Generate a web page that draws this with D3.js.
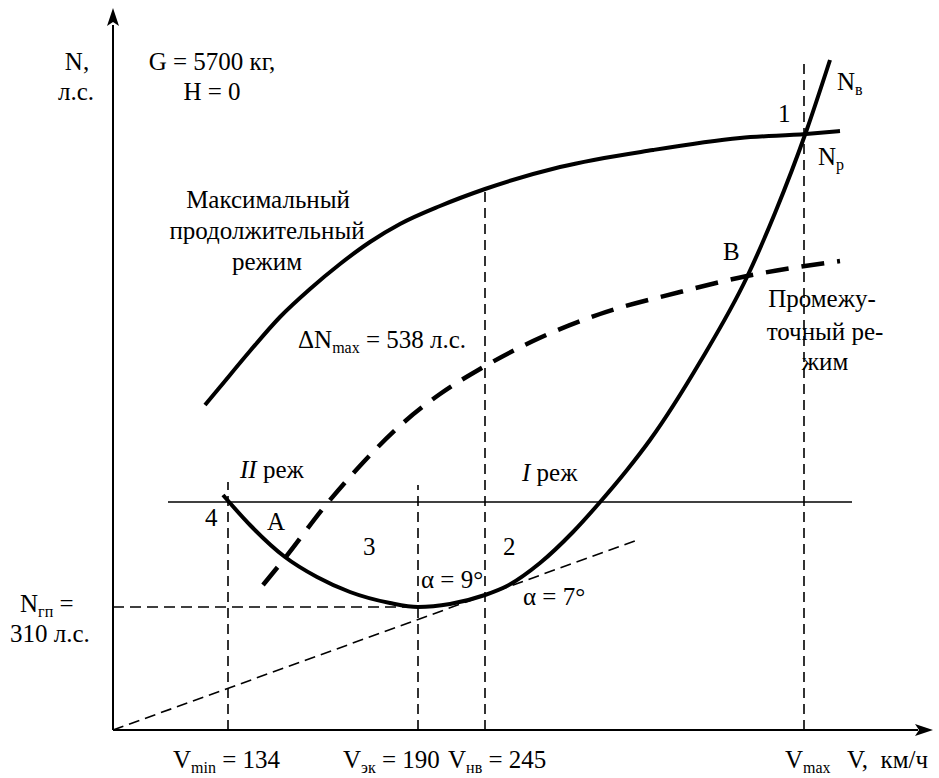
<!DOCTYPE html>
<html>
<head>
    <meta charset="utf-8">
    <title>Режимы полета</title>
    <script src="https://d3js.org/d3.v7.min.js"></script>
    <style>
        body { margin: 0; background: #fff; }
        text { font-family: "Liberation Serif", "Times New Roman", Times, Tinos, "DejaVu Serif", serif; font-size: 25px; fill: #000; white-space: pre; }
    </style>
</head>
<body>
    <script>
        // schematic units (the picture has no numeric scale on the axes)
        var requiredCurve = [[110,235],[137,205],[172,173],[204,153],[237,138],[277,127],[305,123],[337,126],
            [372,135],[394,144],[427,167],[460,198],[488,229],[514,260],[537,290],[587,368],[634,453],
            [662,517],[693,598],[717,670]];
        var maxContCurve = [[92,325],[107,343],[137,379],[167,413],[197,441],[227,466],[257,488],[287,506],
            [327,524],[372,541],[447,563],[540,580],[627,592],[693,596],[727,599]];
        var intermCurve = [[150,145],[172,172],[212,224],[245,262],[290,307],[327,336],[367,361],
            [420,389],[487,416],[567,438],[634,454],[692,464],[727,469]];

        var speedNames = ["min", "эк", "нв", "max"];
        var speedLabels = ["134", "190", "245", ""];
        var speedX = [115, 305, 372, 691];
        var speedTop = [248, 245, 541, 672];

        var levelLine = [[55,228],[739,228]];
        var nGpLine = [[0,123],[305,123]];
        var tangentLine = [[0,0],[527,191]];

        var width = 939;
        var height = 778;

        var x = d3.scaleLinear().domain([0, 820]).range([113, 933]);
        var y = d3.scaleLinear().domain([0, 722]).range([730, 8]);

        var svg = d3.select("body").append("svg")
            .attr("width", width)
            .attr("height", height);

        var smooth = d3.line()
            .x(function(d) { return x(d[0]); })
            .y(function(d) { return y(d[1]); })
            .curve(d3.curveMonotoneX);
        var straight = d3.line()
            .x(function(d) { return x(d[0]); })
            .y(function(d) { return y(d[1]); });

        // thin dashed guides
        speedX.forEach(function(v, i) {
            svg.append("path")
                .attr("d", straight([[v, 0], [v, speedTop[i]]]))
                .attr("fill", "none")
                .attr("stroke", "#000")
                .attr("stroke-width", 1.6)
                .attr("stroke-dasharray", "10,6");
        });
        [nGpLine, tangentLine].forEach(function(l) {
            svg.append("path")
                .attr("d", straight(l))
                .attr("fill", "none")
                .attr("stroke", "#000")
                .attr("stroke-width", 1.6)
                .attr("stroke-dasharray", "11,6");
        });
        svg.append("path")
            .attr("d", straight(levelLine))
            .attr("fill", "none")
            .attr("stroke", "#000")
            .attr("stroke-width", 1.6);

        // curves
        svg.append("path")
            .attr("d", smooth(intermCurve))
            .attr("fill", "none")
            .attr("stroke", "#000")
            .attr("stroke-width", 4.5)
            .attr("stroke-dasharray", "23,13");
        [requiredCurve, maxContCurve].forEach(function(c) {
            svg.append("path")
                .attr("d", smooth(c))
                .attr("fill", "none")
                .attr("stroke", "#000")
                .attr("stroke-width", 4);
        });

        // axes with arrows
        svg.append("line")
            .attr("x1", x(0)).attr("y1", y(0))
            .attr("x2", x(0)).attr("y2", y(0) - 705)
            .attr("stroke", "#000").attr("stroke-width", 2);
        svg.append("line")
            .attr("x1", x(0)).attr("y1", y(0))
            .attr("x2", x(0) + 805).attr("y2", y(0))
            .attr("stroke", "#000").attr("stroke-width", 2);
        svg.append("path")
            .attr("d", "M" + x(0) + "," + y(722) + "l-6,18l6,-4l6,4z");
        svg.append("path")
            .attr("d", "M" + x(820) + "," + y(0) + "l-18,-6l4,6l-4,6z");

        function label(px, py, parts, anchor) {
            var t = svg.append("text")
                .attr("x", px).attr("y", py)
                .attr("text-anchor", anchor || "start");
            var shift = 0;
            parts.forEach(function(p) {
                var s = typeof p === "string" ? { t: p } : p;
                var ts = t.append("tspan").text(s.t);
                var target = s.sub ? 5 : 0;
                if (target !== shift) { ts.attr("dy", target - shift); shift = target; }
                if (s.sub) ts.attr("font-size", 16);
                if (s.it) ts.attr("font-style", "italic");
            });
            return t;
        }

        label(77, 70, ["N,"], "middle");
        label(76, 100, ["л.с."], "middle");
        label(212, 70, ["G = 5700 кг,"], "middle");
        label(212, 100, ["H = 0"], "middle");

        label(837, 90, ["N", { t: "в", sub: true }]);
        label(778, 122, ["1"]);
        label(818, 165, ["N", { t: "р", sub: true }]);

        label(268, 208, ["Максимальный"], "middle");
        label(267, 239, ["продолжительный"], "middle");
        label(267, 270, ["режим"], "middle");

        label(298, 348, ["ΔN", { t: "max", sub: true }, " = 538 л.с."]);

        label(723, 260, ["В"]);
        label(822, 307, ["Промежу-"], "middle");
        label(825, 340, ["точный ре-"], "middle");
        label(825, 370, ["жим"], "middle");

        label(240, 478, [{ t: "II", it: true }, " реж"]);
        label(522, 481, [{ t: "I", it: true }, " реж"]);
        label(205, 526, ["4"]);
        label(267, 530, ["А"]);
        label(363, 555, ["3"]);
        label(503, 555, ["2"]);
        label(421, 588, ["α = 9°"]);
        label(523, 605, ["α = 7°"]);

        label(20, 612, ["N", { t: "гп", sub: true }, " ="]);
        label(10, 642, ["310 л.с."]);

        speedNames.forEach(function(n, i) {
            var parts = ["V", { t: n, sub: true }];
            if (speedLabels[i]) parts.push(" = " + speedLabels[i]);
            var px = [173, 343, 448, 785][i];
            label(px, 768, parts);
        });
        label(847, 768, ["V,  км/ч"]);
    </script>
</body>
</html>
